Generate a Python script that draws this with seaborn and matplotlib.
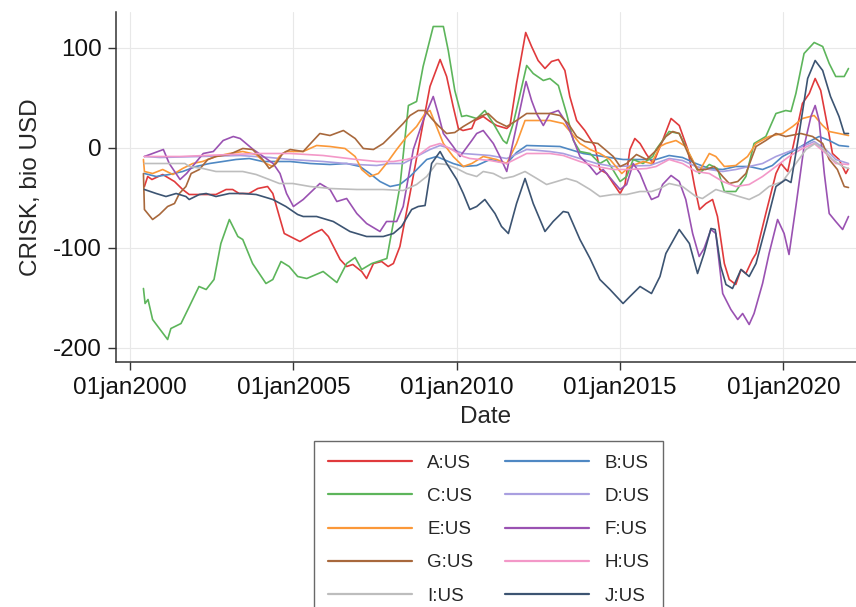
import pandas as pd
import numpy as np
import matplotlib
matplotlib.use('Agg')
import matplotlib.pyplot as plt
import seaborn as sns

# CRISK series (decimal year, bio USD)
a_us = [(2000.44, -39), (2000.54, -29), (2000.67, -32), (2001.0, -27), (2001.36, -34), (2001.61, -42),
        (2001.81, -47), (2002.22, -47), (2002.63, -47), (2002.94, -42), (2003.14, -42), (2003.34, -46),
        (2003.64, -46), (2003.91, -41), (2004.21, -39), (2004.37, -46), (2004.57, -69), (2004.72, -86),
        (2005.08, -92), (2005.20, -94), (2005.61, -86), (2005.87, -82), (2006.07, -89), (2006.43, -112),
        (2006.63, -119), (2006.82, -117), (2007.09, -124), (2007.24, -131), (2007.45, -116), (2007.70, -114),
        (2007.90, -119), (2008.06, -116), (2008.26, -99), (2008.57, -46), (2008.87, 7), (2009.18, 61),
        (2009.49, 88), (2009.69, 71), (2009.89, 41), (2010.05, 19), (2010.19, 17), (2010.46, 19),
        (2010.56, 27), (2010.81, 31), (2011.02, 26), (2011.22, 22), (2011.53, 19), (2011.63, 22),
        (2011.83, 64), (2012.11, 115), (2012.29, 101), (2012.49, 87), (2012.70, 79), (2012.90, 86),
        (2013.11, 88), (2013.31, 77), (2013.46, 51), (2013.67, 27), (2013.92, 17), (2014.23, 1),
        (2014.38, -22), (2014.59, -26), (2014.79, -36), (2015.0, -46), (2015.15, -37), (2015.30, -2),
        (2015.45, 9), (2015.61, 4), (2015.81, -7), (2016.01, -16), (2016.30, 7), (2016.56, 29),
        (2016.81, 22), (2017.07, -2), (2017.28, -39), (2017.43, -62), (2017.63, -56), (2017.83, -52),
        (2017.98, -69), (2018.19, -116), (2018.34, -132), (2018.54, -137), (2018.70, -122), (2018.85, -126),
        (2019.05, -112), (2019.16, -106), (2019.46, -66), (2019.77, -26), (2019.92, -16), (2020.13, -24),
        (2020.38, 14), (2020.58, 44), (2020.79, 54), (2020.97, 69), (2021.14, 57), (2021.35, 21),
        (2021.50, -6), (2021.70, -12), (2021.91, -26), (2021.99, -21)]

b_us = [(2000.44, -26), (2000.80, -29), (2001.20, -27), (2001.61, -24), (2002.02, -19), (2002.43, -16),
        (2002.84, -14), (2003.24, -12), (2003.65, -11), (2004.06, -14), (2004.90, -14), (2005.51, -16),
        (2006.12, -17), (2006.63, -16), (2007.04, -19), (2007.34, -26), (2007.65, -34), (2007.96, -39),
        (2008.26, -37), (2008.57, -29), (2008.87, -19), (2009.08, -12), (2009.38, -9), (2009.89, -16),
        (2010.20, -19), (2010.61, -18), (2011.02, -12), (2011.53, -16), (2011.83, -5), (2012.14, 2),
        (2013.16, 1), (2013.87, -6), (2014.48, -9), (2015.09, -12), (2016.10, -12), (2016.50, -8),
        (2016.91, -10), (2017.32, -16), (2017.73, -21), (2018.14, -22), (2018.54, -19), (2018.95, -19),
        (2019.36, -22), (2019.66, -18), (2019.97, -9), (2020.38, -2), (2020.79, 6), (2021.09, 11),
        (2021.40, 7), (2021.70, 2), (2021.99, 1)]

c_us = [(2000.41, -141), (2000.46, -156), (2000.55, -152), (2000.69, -172), (2001.15, -192), (2001.25, -181),
        (2001.56, -176), (2001.77, -162), (2002.11, -139), (2002.33, -142), (2002.57, -132), (2002.78, -96),
        (2003.04, -72), (2003.30, -89), (2003.45, -92), (2003.75, -116), (2004.16, -136), (2004.37, -132),
        (2004.62, -114), (2004.87, -119), (2005.13, -129), (2005.41, -131), (2005.91, -124), (2006.33, -135),
        (2006.63, -116), (2006.89, -110), (2007.09, -122), (2007.40, -116), (2007.86, -111), (2008.26, -39),
        (2008.52, 42), (2008.77, 46), (2008.97, 81), (2009.28, 121), (2009.59, 121), (2009.74, 97),
        (2009.94, 57), (2010.15, 31), (2010.30, 32), (2010.61, 29), (2010.86, 37), (2011.12, 24),
        (2011.42, 7), (2011.53, 4), (2011.73, 24), (2012.14, 82), (2012.34, 74), (2012.65, 67),
        (2012.85, 69), (2013.11, 62), (2013.36, 34), (2013.57, 7), (2013.77, -4), (2014.08, -6),
        (2014.38, -16), (2014.59, -12), (2015.0, -34), (2015.20, -29), (2015.40, -12), (2015.70, -16),
        (2016.00, -9), (2016.10, -2), (2016.50, 16), (2016.81, 14), (2017.11, -6), (2017.42, -26),
        (2017.73, -17), (2017.98, -21), (2018.19, -44), (2018.54, -44), (2018.85, -29), (2019.10, 4),
        (2019.46, 11), (2019.77, 34), (2020.07, 37), (2020.23, 36), (2020.38, 54), (2020.63, 94),
        (2020.94, 105), (2021.20, 101), (2021.40, 84), (2021.60, 71), (2021.86, 71), (2021.99, 79)]

d_us = [(2000.44, -9), (2000.92, -10), (2002.14, -9), (2003.37, -8), (2004.28, -10), (2004.90, -12),
        (2005.91, -14), (2006.94, -17), (2007.55, -18), (2007.96, -16), (2008.36, -16), (2008.77, -9),
        (2009.18, -2), (2009.49, 2), (2009.79, -1), (2010.20, -6), (2011.02, -8), (2011.53, -11),
        (2012.14, -2), (2012.85, -4), (2013.26, -6), (2013.77, -11), (2014.28, -16), (2014.79, -19),
        (2015.91, -18), (2016.50, -11), (2016.91, -13), (2017.32, -19), (2017.73, -22), (2018.14, -24),
        (2018.54, -22), (2018.95, -19), (2019.36, -16), (2019.77, -9), (2020.17, -4), (2020.58, 1),
        (2020.94, 6), (2021.30, -2), (2021.60, -12), (2021.99, -16)]

e_us = [(2000.41, -12), (2000.44, -24), (2000.69, -26), (2001.0, -22), (2001.31, -27), (2001.61, -21),
        (2001.92, -16), (2002.22, -14), (2002.63, -9), (2003.04, -6), (2003.45, -4), (2003.86, -7),
        (2004.16, -16), (2004.37, -19), (2004.57, -9), (2004.77, -4), (2005.30, -4), (2005.71, 2),
        (2006.12, 1), (2006.58, -1), (2006.89, -9), (2007.09, -22), (2007.34, -29), (2007.60, -26),
        (2007.85, -16), (2008.16, -2), (2008.47, 11), (2008.77, 21), (2009.03, 34), (2009.18, 37),
        (2009.38, 21), (2009.59, 4), (2009.89, -9), (2010.20, -19), (2010.46, -16), (2010.81, -9),
        (2011.22, -12), (2011.53, -16), (2011.83, 4), (2012.09, 27), (2012.85, 27), (2013.26, 24),
        (2013.52, 14), (2013.77, 4), (2014.08, -2), (2014.38, -6), (2014.69, -12), (2015.05, -26),
        (2015.30, -19), (2015.71, -14), (2015.96, -16), (2016.22, 1), (2016.40, 4), (2016.71, 7),
        (2017.01, 1), (2017.27, -16), (2017.42, -24), (2017.73, -6), (2017.93, -9), (2018.19, -19),
        (2018.54, -18), (2018.90, -9), (2019.16, 4), (2019.56, 11), (2019.97, 14), (2020.28, 21),
        (2020.58, 29), (2020.94, 32), (2021.20, 22), (2021.40, 16), (2021.70, 14), (2021.99, 12)]

f_us = [(2000.44, -9), (2000.69, -6), (2001.02, -2), (2001.20, -16), (2001.53, -32), (2001.73, -26),
        (2002.24, -6), (2002.55, -4), (2002.85, 7), (2003.16, 11), (2003.37, 9), (2003.77, -2),
        (2004.08, -9), (2004.38, -16), (2004.59, -26), (2004.79, -46), (2005.0, -59), (2005.30, -52),
        (2005.81, -36), (2006.12, -42), (2006.33, -54), (2006.63, -51), (2006.94, -66), (2007.24, -76),
        (2007.65, -84), (2007.85, -74), (2008.16, -74), (2008.36, -59), (2008.67, -2), (2008.97, 27),
        (2009.28, 51), (2009.43, 34), (2009.59, 14), (2009.89, 1), (2010.10, -9), (2010.46, 7),
        (2010.61, 14), (2010.81, 17), (2011.12, 4), (2011.32, -9), (2011.53, -24), (2011.93, 37),
        (2012.12, 66), (2012.29, 47), (2012.44, 34), (2012.65, 22), (2012.85, 34), (2013.11, 37),
        (2013.31, 27), (2013.46, 17), (2013.77, -9), (2014.08, -19), (2014.28, -27), (2014.48, -22),
        (2014.79, -34), (2015.0, -42), (2015.20, -37), (2015.40, -16), (2015.61, -26), (2015.81, -42),
        (2015.96, -52), (2016.17, -49), (2016.30, -37), (2016.56, -28), (2016.81, -34), (2017.01, -52),
        (2017.22, -86), (2017.42, -109), (2017.57, -101), (2017.78, -82), (2017.93, -86), (2018.14, -146),
        (2018.39, -162), (2018.60, -172), (2018.75, -166), (2018.95, -177), (2019.10, -166), (2019.36, -136),
        (2019.56, -106), (2019.82, -72), (2020.02, -86), (2020.17, -107), (2020.38, -59), (2020.63, 1),
        (2020.84, 31), (2020.97, 42), (2021.09, 27), (2021.25, -26), (2021.40, -66), (2021.60, -74),
        (2021.81, -82), (2021.99, -69)]

g_us = [(2000.41, -26), (2000.44, -62), (2000.69, -72), (2000.90, -67), (2001.15, -59), (2001.36, -56),
        (2001.51, -46), (2001.71, -39), (2001.87, -26), (2002.12, -22), (2002.38, -12), (2002.63, -9),
        (2003.04, -7), (2003.45, -1), (2003.75, -2), (2004.06, -12), (2004.26, -21), (2004.47, -16),
        (2004.67, -6), (2004.90, -2), (2005.30, -4), (2005.61, 7), (2005.81, 14), (2006.12, 12),
        (2006.53, 17), (2006.89, 9), (2007.14, -1), (2007.45, -2), (2007.75, 4), (2008.06, 14),
        (2008.36, 24), (2008.57, 32), (2008.82, 37), (2009.03, 37), (2009.23, 29), (2009.43, 22),
        (2009.69, 14), (2009.94, 15), (2010.20, 21), (2010.51, 27), (2010.71, 31), (2010.96, 34),
        (2011.22, 26), (2011.53, 21), (2011.83, 27), (2012.14, 34), (2012.85, 34), (2013.16, 32),
        (2013.41, 24), (2013.67, 11), (2013.92, 6), (2014.32, 4), (2014.79, -9), (2015.0, -19),
        (2015.20, -16), (2015.50, -7), (2015.81, -12), (2016.10, -3), (2016.40, 11), (2016.61, 16),
        (2016.81, 14), (2017.12, -9), (2017.37, -22), (2017.62, -22), (2017.88, -19), (2018.14, -29),
        (2018.34, -36), (2018.60, -34), (2018.85, -26), (2019.16, 1), (2019.46, 7), (2019.77, 14),
        (2020.07, 11), (2020.53, 14), (2020.89, 11), (2021.20, 4), (2021.40, -12), (2021.65, -22),
        (2021.86, -39), (2021.99, -40)]

h_us = [(2000.44, -9), (2001.53, -9), (2003.06, -7), (2003.98, -6), (2004.90, -6), (2005.91, -8),
        (2006.94, -12), (2007.55, -14), (2008.06, -14), (2008.47, -12), (2008.77, -9), (2009.18, 1),
        (2009.49, 4), (2009.79, -1), (2010.20, -9), (2010.40, -11), (2011.02, -13), (2011.53, -16),
        (2012.14, -6), (2012.85, -6), (2013.26, -8), (2013.77, -14), (2014.28, -19), (2014.79, -22),
        (2015.30, -22), (2015.81, -21), (2016.10, -19), (2016.50, -12), (2016.91, -16), (2017.32, -24),
        (2017.73, -26), (2018.14, -34), (2018.54, -39), (2018.95, -37), (2019.36, -29), (2019.77, -19),
        (2020.17, -9), (2020.58, -1), (2020.94, 4), (2021.30, -6), (2021.60, -16), (2021.99, -17)]

i_us = [(2000.44, -16), (2001.68, -16), (2001.81, -19), (2002.23, -21), (2002.63, -24), (2003.45, -24),
        (2003.86, -27), (2004.26, -32), (2004.57, -36), (2004.98, -36), (2005.51, -39), (2006.12, -41),
        (2006.94, -42), (2007.75, -42), (2008.36, -43), (2008.77, -37), (2009.08, -29), (2009.38, -16),
        (2009.69, -17), (2010.0, -21), (2010.30, -26), (2010.61, -29), (2010.81, -24), (2011.12, -26),
        (2011.42, -31), (2011.73, -29), (2012.09, -24), (2012.45, -31), (2012.75, -37), (2013.06, -34),
        (2013.36, -31), (2013.67, -34), (2014.08, -42), (2014.38, -49), (2014.79, -47), (2015.20, -47),
        (2015.61, -44), (2015.96, -44), (2016.22, -41), (2016.50, -36), (2016.91, -39), (2017.32, -49),
        (2017.52, -51), (2017.93, -42), (2018.34, -46), (2018.64, -49), (2018.95, -52), (2019.26, -47),
        (2019.56, -39), (2019.97, -34), (2020.38, -16), (2020.69, -2), (2020.97, 4), (2021.20, -1),
        (2021.50, -12), (2021.81, -19), (2021.99, -21)]

j_us = [(2000.44, -42), (2000.80, -46), (2001.10, -49), (2001.41, -46), (2001.71, -49), (2001.81, -52),
        (2002.12, -47), (2002.33, -46), (2002.63, -49), (2003.04, -46), (2003.45, -46), (2003.86, -47),
        (2004.37, -52), (2004.77, -59), (2005.13, -67), (2005.30, -69), (2005.71, -69), (2006.22, -74),
        (2006.73, -84), (2007.24, -89), (2007.75, -89), (2008.06, -86), (2008.31, -79), (2008.62, -62),
        (2008.82, -59), (2009.03, -58), (2009.23, -16), (2009.49, -4), (2009.69, -16), (2010.0, -32),
        (2010.20, -46), (2010.40, -62), (2010.61, -59), (2010.86, -52), (2011.17, -66), (2011.37, -79),
        (2011.58, -86), (2011.83, -56), (2012.09, -31), (2012.34, -56), (2012.70, -84), (2012.95, -74),
        (2013.26, -64), (2013.41, -65), (2013.77, -92), (2014.08, -111), (2014.38, -132), (2014.69, -142),
        (2015.09, -156), (2015.30, -149), (2015.61, -139), (2015.96, -146), (2016.22, -129), (2016.40, -106),
        (2016.81, -82), (2017.12, -96), (2017.37, -126), (2017.57, -106), (2017.78, -81), (2017.91, -82),
        (2018.08, -119), (2018.24, -137), (2018.44, -141), (2018.70, -122), (2018.95, -129), (2019.16, -116),
        (2019.46, -79), (2019.77, -39), (2020.07, -32), (2020.23, -35), (2020.48, 14), (2020.74, 69),
        (2020.97, 87), (2021.20, 77), (2021.44, 51), (2021.70, 31), (2021.86, 14), (2021.99, 14)]

series = {'A:US': a_us, 'B:US': b_us, 'C:US': c_us, 'D:US': d_us, 'E:US': e_us,
          'F:US': f_us, 'G:US': g_us, 'H:US': h_us, 'I:US': i_us, 'J:US': j_us}

colors = {'A:US': '#e03a3c', 'B:US': '#4f88c3', 'C:US': '#5db55b', 'D:US': '#a99fe0',
          'E:US': '#fb9838', 'F:US': '#9a52b2', 'G:US': '#a8683c', 'H:US': '#f398c8',
          'I:US': '#bdbdbd', 'J:US': '#3c5472'}

tick_years = [2000, 2005, 2010, 2015, 2020]
tick_labels = ['01jan2000', '01jan2005', '01jan2010', '01jan2015', '01jan2020']
y_ticks = [-200, -100, 0, 100]

rows = []
for name, pts in series.items():
    for t, v in pts:
        rows.append({'Date': t, 'CRISK': v, 'ticker': name})
df = pd.DataFrame(rows)

sns.set_style('white')
plt.rcParams['font.family'] = ['Liberation Sans', 'DejaVu Sans']
plt.rcParams['axes.unicode_minus'] = False

fig = plt.figure(figsize=(8.56, 6.07), dpi=100)
ax = fig.add_axes([116 / 856, 1 - 362 / 607, 740 / 856, 350 / 607])

sns.lineplot(data=df, x='Date', y='CRISK', hue='ticker', palette=colors,
             estimator=None, sort=False, linewidth=1.2, ax=ax)

ax.set_xlim(1999.57, 2022.22)
ax.set_ylim(-214.5, 135.5)
ax.set_xticks(tick_years)
ax.set_xticklabels(tick_labels)
ax.set_yticks(y_ticks)
ax.set_yticklabels([str(v) for v in y_ticks])
ax.grid(True, color='#e8e8e8', linewidth=0.8)
ax.set_axisbelow(True)

for side in ['top', 'right']:
    ax.spines[side].set_visible(False)
for side in ['left', 'bottom']:
    ax.spines[side].set_color('#333333')
    ax.spines[side].set_linewidth(1.1)
ax.tick_params(axis='both', which='major', labelsize=17.5, colors='#111111',
               length=6, width=1.0, direction='out', left=True, bottom=True)
ax.tick_params(axis='both', color='#333333')
ax.tick_params(axis='x', pad=5)
ax.tick_params(axis='y', pad=4)

ax.set_xlabel('Date', fontsize=17.5, labelpad=5)
ax.set_ylabel('CRISK, bio USD', fontsize=17.5, labelpad=8)

# legend below, row-wise order like the original
handles, labels = ax.get_legend_handles_labels()
ax.get_legend().remove()
order = [0, 2, 4, 6, 8, 1, 3, 5, 7, 9]
leg = fig.legend([handles[i] for i in order], [labels[i] for i in order],
                 loc='upper center', bbox_to_anchor=(488.5 / 856, 1 - 441 / 607),
                 ncol=2, fontsize=13.5, frameon=True, fancybox=False, borderaxespad=0,
                 handlelength=4.5, handletextpad=0.8, columnspacing=1.7,
                 labelspacing=0.86, borderpad=0.72)
leg.get_frame().set_edgecolor('#444444')
leg.get_frame().set_linewidth(1.0)
for line in leg.get_lines():
    line.set_linewidth(1.6)

fig.savefig('out.png', dpi=100)
